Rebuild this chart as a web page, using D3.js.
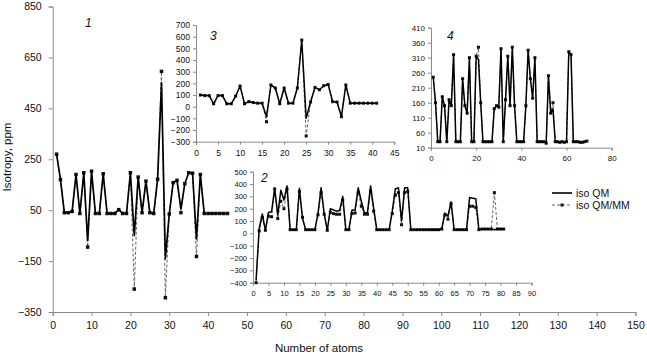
<!DOCTYPE html>
<html><head><meta charset="utf-8">
<script src="https://cdn.jsdelivr.net/npm/d3@7"></script>
<style>body{margin:0;background:#fff}svg{display:block;font-family:"Liberation Sans",Arial,sans-serif}</style>
</head><body><svg id="c" width="647" height="355"></svg>
<script>
// ---- Panel 1 (main) ----
const qm1   = [270,170,40,40,45,190,37,197,-70,203,37,37,193,37,37,37,52,37,37,197,-50,180,40,164,40,37,171,550,-141,35,158,167,55,154,197,195,-63,190,37,37,37,37,37,37,37];
const qmmm1 = [270,170,40,40,45,190,37,197,-95,203,37,37,193,37,37,37,52,37,37,197,-260,180,40,164,40,37,171,595,-294,35,158,167,40,154,197,195,-132,190,37,37,37,37,37,37,37];
const xTicks1 = [0,10,20,30,40,50,60,70,80,90,100,110,120,130,140,150];
const yTicks1 = [-350,-150,50,250,450,650,850];
// ---- Panel 2 ----
const qm2   = [-380,40,157,25,170,175,365,150,350,270,385,30,30,30,365,120,30,30,30,30,160,370,160,25,200,190,180,185,300,30,30,190,190,370,260,165,170,385,200,30,30,30,30,30,180,360,370,100,370,370,30,30,30,30,30,30,30,30,30,30,35,165,140,255,30,30,30,30,30,290,285,280,30,35,35,35,35,30,35,35,35];
const qmmm2 = [-400,20,130,25,140,135,360,120,260,200,360,30,30,30,340,130,30,30,30,30,150,330,155,25,170,160,155,155,270,30,30,160,165,330,220,155,155,340,180,30,30,30,30,30,160,310,330,70,330,340,30,30,30,30,30,30,30,30,30,30,35,150,115,240,30,30,30,30,30,220,220,210,30,35,35,35,35,330,35,35,35];
const xTicks2 = [0,5,10,15,20,25,30,35,40,45,50,55,60,65,70,75,80,85,90];
const yTicks2 = [-400,-300,-200,-100,0,100,200,300,400,500];
// ---- Panel 3 ----
const qm3   = [100,95,95,25,95,95,25,25,90,177,25,43,35,30,30,-86,186,160,25,160,30,30,160,571,-100,40,165,145,180,190,43,40,-86,186,30,30,30,30,30,30,30];
const qmmm3 = [100,95,95,25,95,95,25,25,90,177,25,43,35,30,30,-129,186,160,25,160,30,30,160,571,-251,40,165,145,180,190,43,40,-86,186,30,30,30,30,30,30,30];
const xTicks3 = [0,5,10,15,20,25,30,35,40,45];
const yTicks3 = [-300,-200,-100,0,100,200,300,400,500,600,700];
// ---- Panel 4 ----
const qm4   = [245,160,30,30,180,150,30,170,150,320,30,30,30,240,150,125,310,30,30,315,305,160,30,30,30,30,30,140,150,145,340,30,170,315,150,345,150,30,30,30,30,150,335,240,175,310,30,30,30,30,25,250,125,140,30,30,28,30,28,30,330,320,30,30,30,28,28,30,32];
const qmmm4 = [245,160,30,30,180,150,30,170,150,320,30,30,30,240,150,125,310,30,30,315,345,160,30,30,30,30,30,140,150,145,340,30,170,315,150,345,150,30,30,30,30,150,335,240,175,310,30,30,30,30,25,250,125,160,30,30,28,30,28,30,330,320,30,30,30,28,28,30,32];
const xTicks4 = [0,20,40,60,80];
const yTicks4 = [10,60,110,160,210,260,310,360,410];
const seriesNames = ["iso QM","iso QM/MM"];

const svg = d3.select("#c");
const fmt = d => (d<0 ? "\u2212"+Math.abs(d) : String(d));

function panel(o){
  const g = svg.append("g");
  const x = d3.scaleLinear().domain(o.xd).range(o.xr);
  const y = d3.scaleLinear().domain(o.yd).range(o.yr);
  const ya = g.append("g").attr("transform",`translate(${o.xr[0]},0)`)
    .call(d3.axisLeft(y).tickValues(o.yt).tickFormat(fmt).tickSize(o.tk).tickPadding(o.pad));
  const xa = g.append("g").attr("transform",`translate(0,${o.yr[0]})`)
    .call(d3.axisBottom(x).tickValues(o.xt).tickFormat(fmt).tickSize(o.tk).tickPadding(o.padx));
  [ya,xa].forEach(a=>{
    a.select(".domain").attr("stroke","#8a8a8a").attr("stroke-width",1);
    a.selectAll(".tick line").attr("stroke","#8a8a8a");
    a.selectAll("text").attr("fill","#111").style("font-size",o.fs+"px").style("font-family",'"Liberation Sans",Arial,sans-serif');
  });
  const pts = arr => arr.map((v,i)=>[i+1,v]);
  const line = d3.line().x(d=>x(d[0])).y(d=>y(d[1]));
  g.append("path").datum(pts(o.mm)).attr("d",line).attr("fill","none")
    .attr("stroke","#555").attr("stroke-width",0.9).attr("stroke-dasharray","3,2");
  g.append("g").selectAll("rect").data(pts(o.mm)).join("rect")
    .attr("x",d=>x(d[0])-o.ms/2).attr("y",d=>y(d[1])-o.ms/2)
    .attr("width",o.ms).attr("height",o.ms).attr("fill","#111");
  g.append("path").datum(pts(o.qm)).attr("d",line).attr("fill","none")
    .attr("stroke","#000").attr("stroke-width",o.lw).attr("stroke-linejoin","round");
  g.append("text").attr("x",o.lab[0]).attr("y",o.lab[1]).text(o.lab[2])
    .style("font-style","italic").style("font-size","12px").attr("fill","#111");
}

panel({qm:qm1,mm:qmmm1,xd:[0,150],xr:[52.7,635.5],yd:[-350,850],yr:[312,6.5],xt:xTicks1,yt:yTicks1,
  tk:4,pad:7,padx:6,fs:10.5,ms:3.5,lw:1.7,lab:[85,27,"1"]});
panel({qm:qm3,mm:qmmm3,xd:[0,45],xr:[196,394.3],yd:[-300,700],yr:[141.7,25],xt:xTicks3,yt:yTicks3,
  tk:3,pad:3,padx:5,fs:8.5,ms:3,lw:1.5,lab:[210,40,"3"]});
panel({qm:qm4,mm:qmmm4,xd:[0,80],xr:[431,611.7],yd:[10,410],yr:[147.7,27.7],xt:xTicks4,yt:yTicks4,
  tk:3,pad:3,padx:5,fs:8,ms:3,lw:1.5,lab:[447,40,"4"]});
panel({qm:qm2,mm:qmmm2,xd:[0,90],xr:[253,531.5],yd:[-400,500],yr:[282.7,171.7],xt:xTicks2,yt:yTicks2,
  tk:3,pad:3,padx:5,fs:7.5,ms:3,lw:1.5,lab:[261,182,"2"]});

// axis titles
svg.append("text").attr("x",319).attr("y",352).attr("text-anchor","middle")
  .style("font-size","11.5px").attr("fill","#111").text("Number of atoms");
svg.append("text").attr("transform","translate(11,157) rotate(-90)").attr("text-anchor","middle")
  .style("font-size","11.5px").attr("fill","#111").text("Isotropy, ppm");

// legend
const lg = svg.append("g");
lg.append("line").attr("x1",552).attr("x2",572).attr("y1",193).attr("y2",193).attr("stroke","#000").attr("stroke-width",1.6);
lg.append("text").attr("x",576).attr("y",197).style("font-size","10.5px").attr("fill","#111").text(seriesNames[0]);
lg.append("line").attr("x1",552).attr("x2",572).attr("y1",205).attr("y2",205).attr("stroke","#555").attr("stroke-width",0.9).attr("stroke-dasharray","3,2");
lg.append("rect").attr("x",560.5).attr("y",203.5).attr("width",3).attr("height",3).attr("fill","#111");
lg.append("text").attr("x",576).attr("y",209).style("font-size","10.5px").attr("fill","#111").text(seriesNames[1]);
</script></body></html>
